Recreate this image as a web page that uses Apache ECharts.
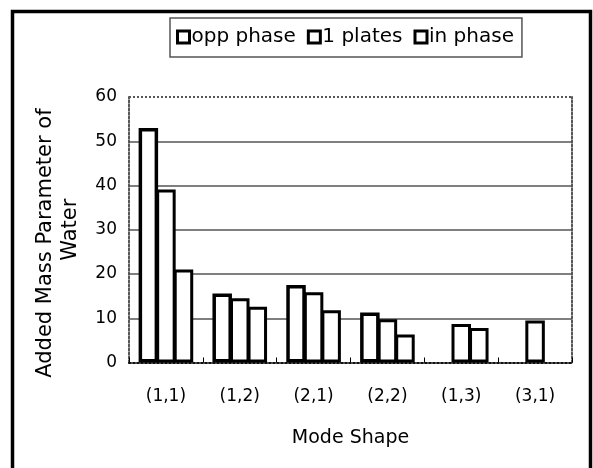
<!DOCTYPE html>
<html>
<head>
<meta charset="utf-8">
<script src="https://cdn.jsdelivr.net/npm/echarts@6/dist/echarts.min.js"></script>
<style>
  html, body { margin: 0; padding: 0; background: #fff; }
  #chart { width: 593px; height: 468px; }
</style>
</head>
<body>
<div id="chart"></div>
<script>
// Mode shapes on the category axis
const modeShapes = ['(1,1)', '(1,2)', '(2,1)', '(2,2)', '(1,3)', '(3,1)'];
// Added mass parameter of water for each configuration ('-' = no value)
const oppPhase = [53.0, 15.6, 17.5, 11.3, '-', '-'];
const onePlate = [39.1, 14.5, 15.9, 9.8, 8.7, 9.5];
const inPhase = [21.0, 12.6, 11.8, 6.3, 7.8, '-'];
// Value-axis ticks
const yTicks = [0, 10, 20, 30, 40, 50, 60];

const FONT = 'DejaVu Sans';
const chart = echarts.init(document.getElementById('chart'));

function barSeries(name, data, bw) {
  return {
    name: name,
    type: 'bar',
    data: data,
    barWidth: 19.5,
    barGap: '-10%',
    itemStyle: { color: '#fff', borderColor: '#000', borderWidth: bw },
    emphasis: { disabled: true },
    xAxisIndex: 0,
    yAxisIndex: 0
  };
}

const series = [
  barSeries('opp phase', oppPhase, 3.5),
  barSeries('1 plates', onePlate, 3),
  barSeries('in phase', inPhase, 3)
];
// dotted frame line along the top of the value range
series[0].markLine = {
  silent: true,
  symbol: 'none',
  label: { show: false },
  lineStyle: { color: '#555', width: 2, type: 'dotted' },
  data: [{ yAxis: yTicks[yTicks.length - 1] }]
};

chart.setOption({
  animation: false,
  backgroundColor: '#fff',
  textStyle: { fontFamily: FONT },
  grid: { left: 129, right: 21, top: 97, bottom: 105.5 },
  legend: {
    left: 170,
    top: 18,
    padding: [9, 8, 10, 6],
    backgroundColor: '#fff',
    borderColor: '#555',
    borderWidth: 1.5,
    borderRadius: 0,
    itemWidth: 12,
    itemHeight: 12,
    itemGap: 11,
    icon: 'rect',
    itemStyle: { color: '#fff', borderColor: '#000', borderWidth: 3 },
    textStyle: { fontFamily: FONT, fontSize: 20, color: '#000', padding: [0, 0, 0, -3] },
    data: ['opp phase', '1 plates', 'in phase']
  },
  xAxis: [{
    type: 'category',
    data: modeShapes,
    position: 'bottom',
    name: 'Mode Shape',
    nameLocation: 'middle',
    nameGap: 66,
    nameTextStyle: { fontFamily: FONT, fontSize: 19, color: '#000', verticalAlign: 'top' },
    axisLine: { lineStyle: { color: '#111', width: 2, type: 'dotted' } },
    axisTick: { show: true, inside: true, length: 5, lineStyle: { color: '#000', width: 1 } },
    axisLabel: { fontFamily: FONT, fontSize: 17, color: '#000', margin: 26 },
    splitLine: { show: false }
  }],
  yAxis: [{
    type: 'value',
    min: 0,
    max: 60,
    interval: 10,
    position: 'left',
    name: 'Added Mass Parameter of    \nWater',
    nameLocation: 'middle',
    nameRotate: 90,
    nameGap: 46,
    nameTextStyle: { fontFamily: FONT, fontSize: 21, color: '#000', lineHeight: 25, align: 'center' },
    axisLine: { show: true, lineStyle: { color: '#555', width: 2, type: 'dotted' } },
    axisTick: { show: false },
    axisLabel: {
      fontFamily: FONT, fontSize: 17, color: '#000', margin: 12,
      formatter: function (v) { return yTicks.indexOf(v) >= 0 ? String(v) : ''; }
    },
    splitLine: {
      show: true,
      lineStyle: { color: ['rgba(0,0,0,0)', '#555', '#555', '#555', '#555', '#555', 'rgba(0,0,0,0)'], width: 1.5 }
    }
  }, {
    type: 'value',
    min: 0,
    max: 60,
    interval: 10,
    position: 'right',
    axisLine: { show: true, lineStyle: { color: '#555', width: 2, type: 'dotted' } },
    axisTick: { show: false },
    axisLabel: { show: false },
    splitLine: { show: false }
  }],
  series: series,
  graphic: [{
    type: 'rect',
    shape: { x: 12.5, y: 11.5, width: 578, height: 480 },
    style: { fill: 'none', stroke: '#000', lineWidth: 3.5 },
    silent: true,
    z: 100
  }]
});
</script>
</body>
</html>
